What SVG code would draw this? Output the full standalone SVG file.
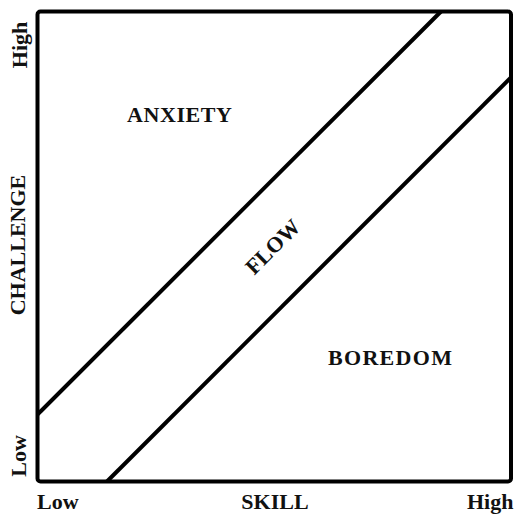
<svg xmlns="http://www.w3.org/2000/svg" width="519" height="515" viewBox="0 0 519 515">
<style>
text{font-family:"Liberation Serif","Times New Roman",serif;font-weight:bold;font-size:22px;fill:#111}
.ln{stroke:#000;stroke-width:4;fill:none;stroke-linejoin:round}
</style>
<rect width="519" height="515" fill="#fff"/>
<g id="frame">
<rect class="ln" x="37.5" y="11.5" width="473.5" height="470" rx="3"/>
</g>
<g id="connectors">
<line class="ln" x1="37.5" y1="414.5" x2="441" y2="11.5"/>
<line class="ln" x1="107" y1="481.5" x2="511" y2="77.5"/>
</g>
<g id="anxiety"><text x="179.5" y="122" text-anchor="middle" textLength="105">ANXIETY</text></g>
<g id="boredom"><text x="390" y="365" text-anchor="middle" textLength="124">BOREDOM</text></g>
<g id="flow"><text transform="translate(273,247) rotate(-45)" x="0" y="7" text-anchor="middle">FLOW</text></g>
<g id="x-axis">
<text x="37" y="509">Low</text>
<text x="275" y="509" text-anchor="middle">SKILL</text>
<text x="467" y="509">High</text>
</g>
<g id="y-axis">
<text transform="translate(27,45) rotate(-90)" text-anchor="middle">High</text>
<text transform="translate(25,245) rotate(-90)" text-anchor="middle">CHALLENGE</text>
<text transform="translate(26,456) rotate(-90)" text-anchor="middle">Low</text>
</g>
</svg>
